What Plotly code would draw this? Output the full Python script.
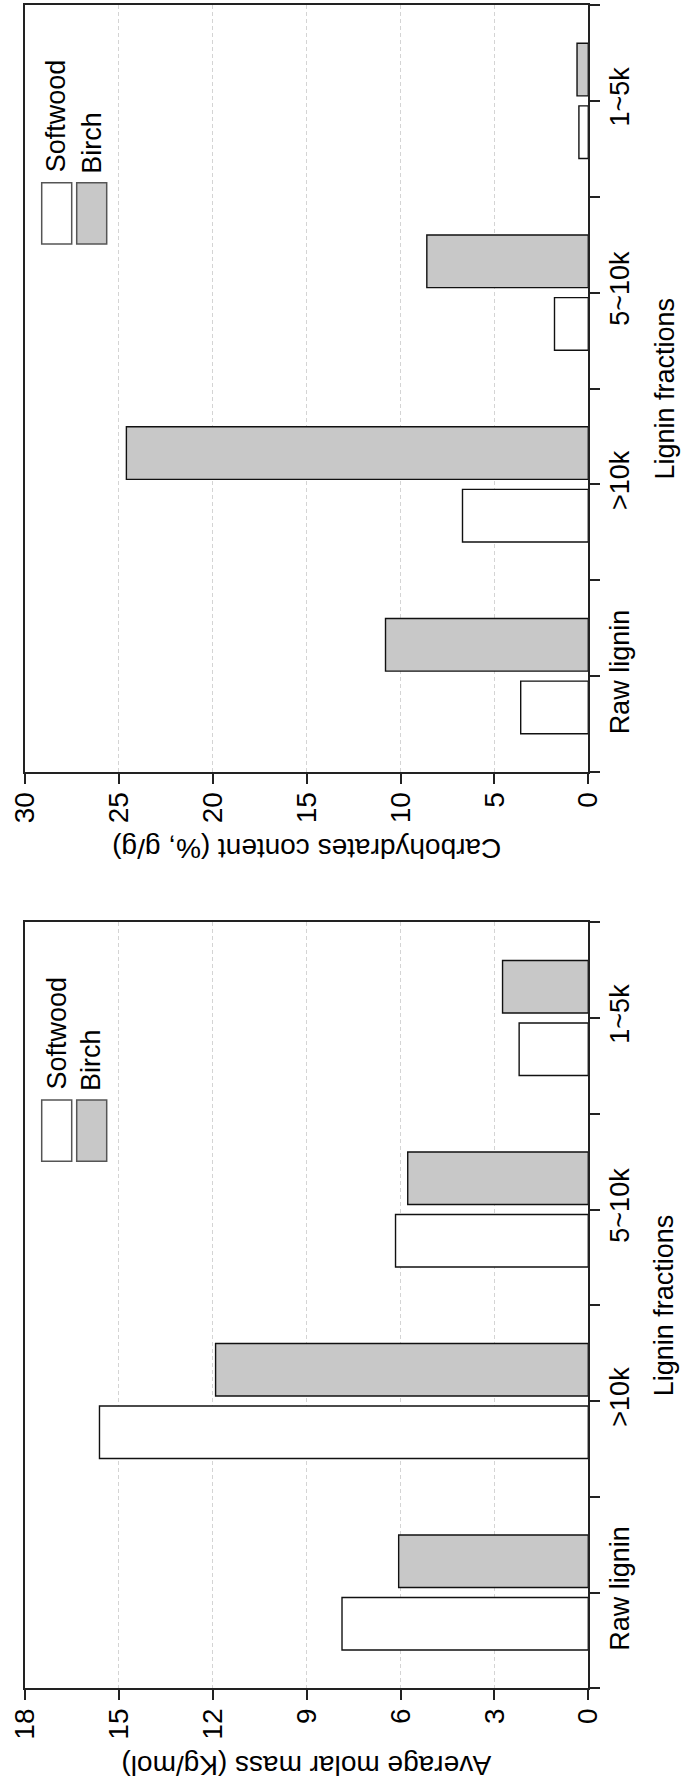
import plotly.graph_objects as go

# Lignin fractions (category axis) and the two measured series per panel
fractions = ["Raw lignin", ">10k", "5~10k", "1~5k"]

carb_softwood = [3.6, 6.7, 1.8, 0.5]
carb_birch = [10.8, 24.6, 8.6, 0.6]

mass_softwood = [7.87, 15.62, 6.16, 2.21]
mass_birch = [6.06, 11.91, 5.77, 2.74]

carb_ticks = [0, 5, 10, 15, 20, 25, 30]
mass_ticks = [0, 3, 6, 9, 12, 15, 18]

series_names = ["Softwood", "Birch"]
series_fill = ["#ffffff", "#c8c8c8"]

W, H = 681, 1787
FONT = "Liberation Sans, Arial, Helvetica, sans-serif"
INK = "#222222"


def px(x):
    return x / W


def py(y):
    return 1 - y / H


# plot-area geometry (pixels)
X_LEFT, X_RIGHT = 25, 588.3
PANELS = [
    dict(top=5, bottom=772, vmax=30, ticks=carb_ticks,
         soft=carb_softwood, birch=carb_birch,
         title="Carbohydrates content (%, g/g)", xa="x", ya="y"),
    dict(top=922.3, bottom=1688.3, vmax=18, ticks=mass_ticks,
         soft=mass_softwood, birch=mass_birch,
         title="Average molar mass (Kg/mol)", xa="x2", ya="y2"),
]

pos = list(range(len(fractions)))
cat_tickvals = [i * 0.5 - 0.5 for i in range(2 * len(fractions) + 1)]
cat_ticktext = []
for v in cat_tickvals:
    cat_ticktext.append(fractions[int(v)] if float(v).is_integer() else "")

fig = go.Figure()
shapes = []
annotations = []

for k, p in enumerate(PANELS):
    for name, vals, fill in zip(series_names, [p["soft"], p["birch"]], series_fill):
        fig.add_trace(go.Bar(
            x=vals, y=pos, orientation="h", name=name,
            marker=dict(color=fill, line=dict(color="#111111", width=1.4)),
            xaxis=p["xa"], yaxis=p["ya"], showlegend=False,
        ))

    suffix = "" if k == 0 else str(k + 1)
    fig.update_layout(**{
        "xaxis" + suffix: dict(
            domain=[px(X_LEFT), px(X_RIGHT)],
            anchor=p["ya"],
            range=[p["vmax"], 0],
            tickmode="array", tickvals=p["ticks"],
            ticktext=[str(t) for t in p["ticks"]],
            tickangle=-90, ticks="outside", ticklen=10, tickwidth=2,
            ticklabelstandoff=-3,
            tickcolor=INK, tickfont=dict(size=28, family=FONT, color="black"),
            showline=True, linecolor=INK, linewidth=2, mirror=True,
            showgrid=True, gridcolor="#d4d4d4", griddash="4px,3px", gridwidth=1,
            zeroline=False, fixedrange=True,
        ),
        "yaxis" + suffix: dict(
            domain=[py(p["bottom"]), py(p["top"])],
            anchor=p["xa"], side="right",
            range=[-0.5, len(fractions) - 0.5],
            tickmode="array", tickvals=cat_tickvals, ticktext=cat_ticktext,
            tickangle=-90, ticks="outside", ticklen=10, tickwidth=2,
            ticklabelstandoff=-4,
            tickcolor=INK, tickfont=dict(size=27, family=FONT, color="black"),
            showline=True, linecolor=INK, linewidth=2, mirror=True,
            showgrid=False, zeroline=False, fixedrange=True,
        ),
    })

    # value-axis title (upside down along the bottom)
    annotations.append(dict(
        text=p["title"], xref="paper", yref="paper",
        x=px((X_LEFT + X_RIGHT) / 2), y=py(p["bottom"] + 77),
        xanchor="center", yanchor="middle", textangle=180, showarrow=False,
        font=dict(size=28, family=FONT, color="black"),
    ))
    # category-axis title on the right
    annotations.append(dict(
        text="Lignin fractions", xref="paper", yref="paper",
        x=px(664), y=py((p["top"] + p["bottom"]) / 2),
        xanchor="center", yanchor="middle", textangle=-90, showarrow=False,
        font=dict(size=27, family=FONT, color="black"),
    ))

    # legend swatches and labels
    t = p["top"]
    for i, (name, fill) in enumerate(zip(series_names, series_fill)):
        x0 = 41.7 + i * 35
        shapes.append(dict(
            type="rect", xref="paper", yref="paper",
            x0=px(x0), x1=px(x0 + 30), y0=py(t + 239), y1=py(t + 177.7),
            fillcolor=fill, line=dict(color="#555555", width=1.5),
        ))
        text_len = 115 if i == 0 else 60
        annotations.append(dict(
            text=name, xref="paper", yref="paper",
            x=px(x0 + 15), y=py(t + 168 - text_len / 2),
            xanchor="center", yanchor="middle", textangle=-90, showarrow=False,
            font=dict(size=27, family=FONT, color="black"),
        ))

fig.update_layout(
    template="none",
    width=W, height=H,
    margin=dict(l=0, r=0, t=0, b=0),
    barmode="group", bargap=0.347, bargroupgap=0.16,
    plot_bgcolor="white", paper_bgcolor="white",
    showlegend=False,
    font=dict(family=FONT, size=27, color="black"),
    shapes=shapes, annotations=annotations,
)

fig.write_html("out.html")
